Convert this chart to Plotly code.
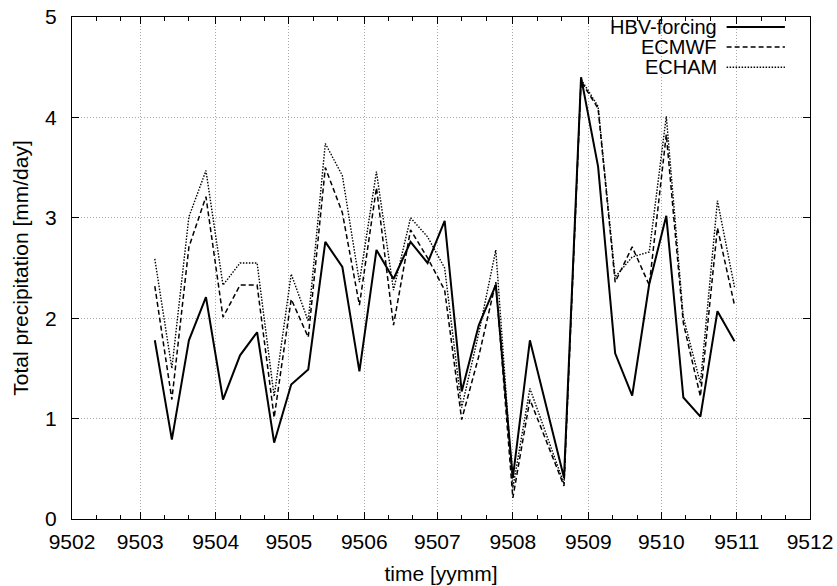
import plotly.graph_objects as go

# Weekly precipitation, Mar-Oct 1995 (mm/day)
dates = [
    "1995-03-07", "1995-03-14", "1995-03-21", "1995-03-28", "1995-04-04",
    "1995-04-11", "1995-04-18", "1995-04-25", "1995-05-02", "1995-05-09",
    "1995-05-16", "1995-05-23", "1995-05-30", "1995-06-06", "1995-06-13",
    "1995-06-20", "1995-06-27", "1995-07-04", "1995-07-11", "1995-07-18",
    "1995-07-25", "1995-08-01", "1995-08-08", "1995-08-15", "1995-08-22",
    "1995-08-29", "1995-09-05", "1995-09-12", "1995-09-19", "1995-09-26",
    "1995-10-03", "1995-10-10", "1995-10-17", "1995-10-24", "1995-10-31",
]
hbv_forcing = [
    1.78, 0.79, 1.78, 2.21, 1.19, 1.63, 1.86, 0.76, 1.34, 1.49,
    2.76, 2.51, 1.47, 2.68, 2.39, 2.76, 2.55, 2.97, 1.27, 1.93,
    2.33, 0.41, 1.78, 1.10, 0.41, 4.40, 3.51, 1.65, 1.23, 2.34,
    3.02, 1.21, 1.02, 2.07, 1.77,
]
ecmwf = [
    2.32, 1.19, 2.71, 3.21, 2.01, 2.33, 2.33, 1.01, 2.19, 1.81,
    3.50, 3.05, 2.13, 3.30, 1.93, 2.88, 2.60, 2.28, 0.99, 1.62,
    2.36, 0.21, 1.19, 0.76, 0.33, 4.36, 4.09, 2.36, 2.71, 2.33,
    3.83, 1.95, 1.22, 2.90, 2.13,
]
echam = [
    2.59, 1.50, 3.01, 3.47, 2.33, 2.55, 2.55, 1.22, 2.44, 1.97,
    3.74, 3.42, 2.36, 3.46, 2.28, 3.00, 2.81, 2.50, 1.11, 1.85,
    2.68, 0.31, 1.30, 0.83, 0.35, 4.38, 4.11, 2.41, 2.61, 2.66,
    4.01, 2.01, 1.35, 3.17, 2.31,
]

series_names = ["HBV-forcing", "ECMWF", "ECHAM"]
series_values = [hbv_forcing, ecmwf, echam]
series_dash = ["solid", "5px,3px", "1.5px,1.5px"]
series_width = [2.0, 1.5, 1.4]

# Month ticks and the 11th/21st-of-month minor ticks
months = ["1995-%02d-01" % m for m in range(2, 13)]
minor_days = ["1995-%02d-%02d" % (m, d) for m in range(2, 12) for d in (11, 21)]

FONT = "Liberation Sans, Arial, Helvetica, sans-serif"
FS = 21

fig = go.Figure()
for name, vals, dash, w in zip(series_names, series_values, series_dash, series_width):
    fig.add_trace(go.Scatter(
        x=dates, y=vals, mode="lines", name=name,
        line=dict(color="black", width=w, dash=dash),
        showlegend=False,
    ))

# Key in the upper right: label text followed by a line sample
key_y = [0.980, 0.940, 0.900]
for name, dash, w, ky in zip(series_names, series_dash, series_width, key_y):
    fig.add_annotation(
        xref="paper", yref="paper", x=0.875, y=ky, text=name,
        showarrow=False, xanchor="right", yanchor="middle",
        font=dict(family=FONT, size=20, color="black"),
        borderpad=0,
    )
    fig.add_shape(
        type="line", xref="paper", yref="paper",
        x0=0.887, x1=0.966, y0=ky, y1=ky,
        line=dict(color="black", width=w, dash=dash),
    )

fig.update_layout(
    width=837, height=586,
    margin=dict(l=72, r=27, t=17, b=67),
    paper_bgcolor="white", plot_bgcolor="white",
    font=dict(family=FONT, size=FS, color="black"),
)

grid = dict(showgrid=True, gridcolor="#a8a8a8", gridwidth=1, griddash="1px,2px")

fig.update_xaxes(
    type="date",
    range=["1995-02-01", "1995-12-01"],
    tickmode="array", tickvals=months,
    tickformat="%y%m",
    ticks="inside", ticklen=7, tickwidth=1, tickcolor="black",
    minor=dict(tickmode="array", tickvals=minor_days, ticks="inside",
               ticklen=4, tickwidth=1, tickcolor="black", showgrid=False),
    showline=True, linecolor="black", linewidth=1.4, mirror="allticks",
    title=dict(text="time [yymm]", font=dict(size=FS), standoff=13),
    tickfont=dict(size=FS), ticklabelstandoff=4,
    zeroline=False, automargin=False, **grid,
)
fig.update_yaxes(
    range=[0, 5], dtick=1, tick0=0,
    ticks="inside", ticklen=7, tickwidth=1, tickcolor="black",
    showline=True, linecolor="black", linewidth=1.4, mirror="allticks",
    title=dict(text="Total precipitation [mm/day]", font=dict(size=FS), standoff=10),
    tickfont=dict(size=FS), ticklabelstandoff=10,
    zeroline=False, automargin=False, **grid,
)

fig.write_html("out.html")
